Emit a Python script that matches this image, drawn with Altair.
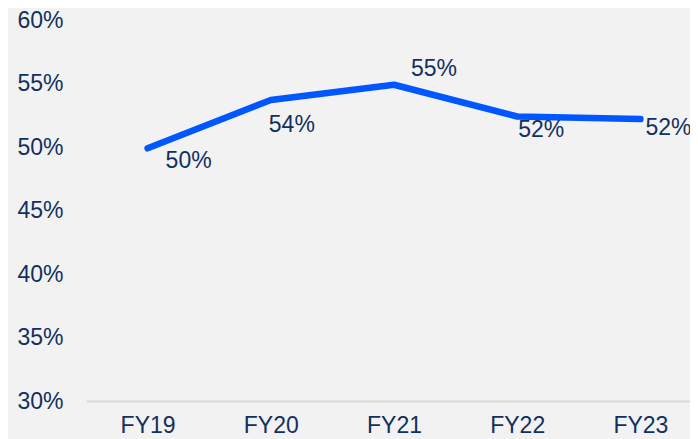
import altair as alt
import pandas as pd

years = ["FY19", "FY20", "FY21", "FY22", "FY23"]
values = [0.499, 0.537, 0.549, 0.524, 0.522]

df = pd.DataFrame({"year": years, "value": values})

# label placement offsets (styling, per category)
label_offsets = {
    "FY19": (18, 13),
    "FY20": (-2, 25),
    "FY21": (17, -16),
    "FY22": (1, 13),
    "FY23": (5, 9),
}

FONT = "Liberation Sans"
TEXT = "#12305E"
FS = 23

x_scale = alt.Scale(type="point", padding=0.5, range=[0, 616])
y_scale = alt.Scale(domain=[0.30, 0.60], nice=False, zero=False)

x_enc = alt.X("year:N", sort=years, title=None, scale=x_scale,
              axis=alt.Axis(labelAngle=0, ticks=False, domain=True, domainColor="#D9D9D9",
                            domainWidth=2, labelPadding=13, labelFont=FONT, labelFontSize=FS,
                            labelColor=TEXT, grid=False))
y_enc = alt.Y("value:Q", title=None, scale=y_scale,
              axis=alt.Axis(format=".0%", values=[0.30, 0.35, 0.40, 0.45, 0.50, 0.55, 0.60],
                            ticks=False, domain=False, grid=False, labelPadding=23,
                            labelFont=FONT, labelFontSize=FS, labelColor=TEXT))

base = alt.Chart(df)
line = base.mark_line(color="#0057FF", strokeWidth=6.5, strokeCap="round", strokeJoin="round").encode(
    x=x_enc, y=y_enc)

labels = []
for yr, (dx, dy) in label_offsets.items():
    labels.append(
        base.transform_filter(alt.datum.year == yr).mark_text(
            align="left", baseline="middle", dx=dx, dy=dy, font=FONT, fontSize=FS, color=TEXT
        ).encode(x=alt.X("year:N", sort=years, scale=x_scale),
                 y=alt.Y("value:Q", scale=y_scale),
                 text=alt.Text("value:Q", format=".0%"))
    )

chart = alt.layer(line, *labels).properties(
    width=604, height=381,
    background="#F2F2F2",
    padding={"left": 78, "top": 12, "right": 0, "bottom": 38},
    autosize=alt.AutoSizeParams(type="none"),
).configure_view(stroke=None, fill="#F2F2F2", clip=False)

chart.save("out.html", embed_options={"renderer": "svg", "actions": False})
